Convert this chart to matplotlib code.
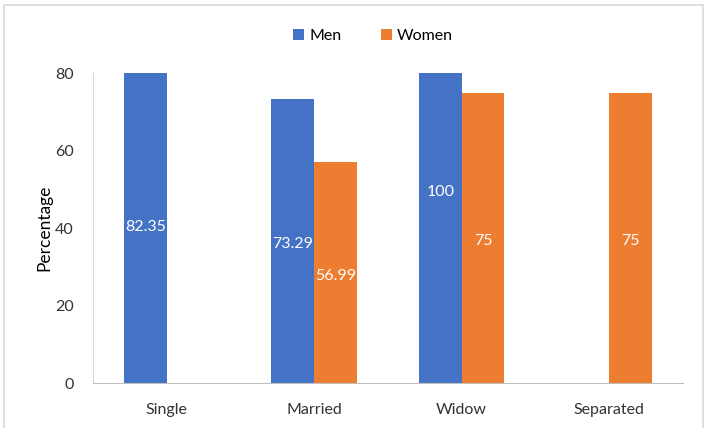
import matplotlib.pyplot as plt
import numpy as np
from matplotlib.patches import Rectangle

categories = ["Single", "Married", "Widow", "Separated"]
men = [82.35, 73.29, 100, 0]
women = [0, 56.99, 75, 75]
men_labels = ["82.35", "73.29", "100", ""]
women_labels = ["", "56.99", "75", "75"]

plt.rcParams["font.family"] = ["Lato", "DejaVu Sans"]

fig = plt.figure(figsize=(7.04, 4.28), dpi=100)
ax = fig.add_axes([0.132, 0.105, 0.838, 0.724])

x = np.arange(len(categories))
width = 0.29
color_men = "#4472C4"
color_women = "#ED7D31"

ax.bar(x - width / 2, men, width, color=color_men, label="Men")
ax.bar(x + width / 2, women, width, color=color_women, label="Women")

for i in range(len(categories)):
    if men_labels[i]:
        ax.text(x[i] - width / 2, men[i] / 2 - 0.8, men_labels[i], ha="center", va="center",
                color="white", fontsize=11.5)
    if women_labels[i]:
        ax.text(x[i] + width / 2, women[i] / 2 - 0.8, women_labels[i], ha="center", va="center",
                color="white", fontsize=11.5)

ax.set_ylim(0, 80)
ax.set_xlim(-0.5, len(categories) - 0.5)
ax.set_yticks([0, 20, 40, 60, 80])
ax.set_xticks(x)
ax.set_xticklabels(categories)
ax.tick_params(length=0, labelsize=11.5, colors="#333333")
ax.tick_params(axis="x", pad=14)
ax.tick_params(axis="y", pad=14)
ax.set_ylabel("Percentage", fontsize=12.5, color="black", labelpad=2)

for s in ["top", "right"]:
    ax.spines[s].set_visible(False)
ax.spines["left"].set_color("#D9D9D9")
ax.spines["bottom"].set_color("#BFBFBF")

fig.legend(loc="center", bbox_to_anchor=(0.53, 0.915), ncol=2, frameon=False,
           fontsize=11.5, handlelength=0.7, handleheight=0.7, columnspacing=2.5,
           handletextpad=0.3)

fig.patches.append(Rectangle((4 / 704, -0.01), 699 / 704, 1 - 5 / 428 + 0.01,
                             transform=fig.transFigure, fill=False,
                             edgecolor="#D9D9D9", linewidth=1.2))

plt.savefig("out.png", dpi=100, facecolor="white")
plt.close()
